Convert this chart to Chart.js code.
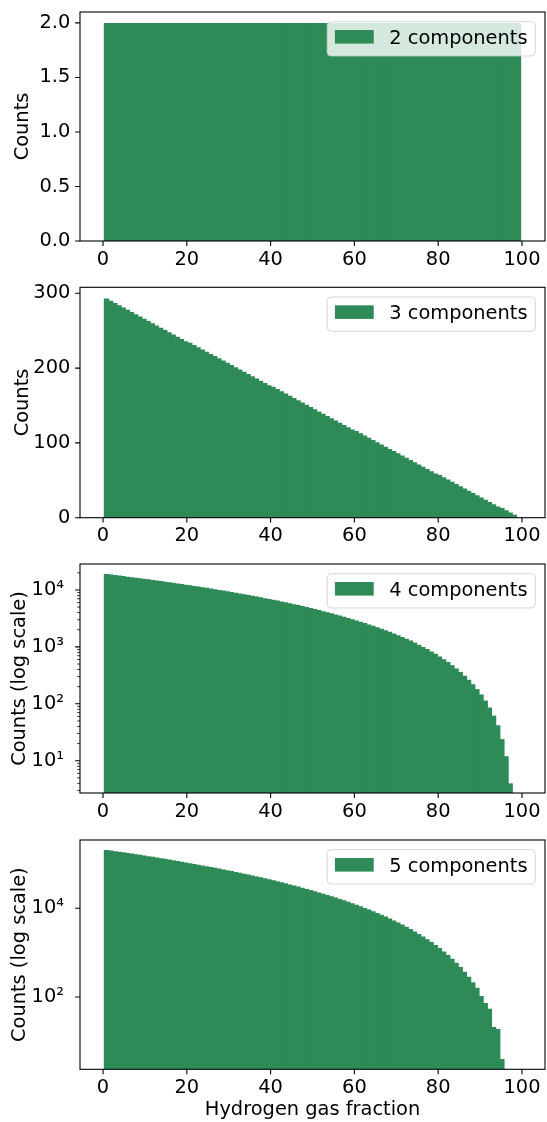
<!DOCTYPE html>
<html>
<head>
<meta charset="utf-8">
<script src="https://cdn.jsdelivr.net/npm/chart.js@4.4.1/dist/chart.umd.min.js"></script>
<style>
  html, body { margin: 0; padding: 0; background: #fff; }
  body { width: 547px; height: 1122px; position: relative; overflow: hidden; }
  canvas { position: absolute; left: 0; }
</style>
</head>
<body>
<canvas id="c2"></canvas>
<canvas id="c3"></canvas>
<canvas id="c4"></canvas>
<canvas id="c5"></canvas>
<script>
// histogram bins (100 bins of hydrogen gas fraction, %)
const binCenters = Array.from({length: 100}, (_, i) => +(0.33 + (i + 0.5) * 0.9934).toFixed(3));

// counts per bin, one array per number of components
const counts2 = [
  2, 2, 2, 2, 2, 2, 2, 2, 2, 2,
  2, 2, 2, 2, 2, 2, 2, 2, 2, 2,
  2, 2, 2, 2, 2, 2, 2, 2, 2, 2,
  2, 2, 2, 2, 2, 2, 2, 2, 2, 2,
  2, 2, 2, 2, 2, 2, 2, 2, 2, 2,
  2, 2, 2, 2, 2, 2, 2, 2, 2, 2,
  2, 2, 2, 2, 2, 2, 2, 2, 2, 2,
  2, 2, 2, 2, 2, 2, 2, 2, 2, 2,
  2, 2, 2, 2, 2, 2, 2, 2, 2, 2,
  2, 2, 2, 2, 2, 2, 2, 2, 2, 2
];
const counts3 = [
  293, 290, 287, 284, 281, 278, 275, 272, 269, 266,
  263, 260, 257, 254, 251, 248, 245, 242, 239, 236,
  234, 231, 228, 225, 222, 219, 216, 213, 210, 207,
  204, 201, 198, 195, 192, 189, 186, 183, 180, 177,
  175, 172, 169, 166, 163, 160, 157, 154, 151, 148,
  145, 142, 139, 136, 133, 130, 127, 124, 121, 118,
  116, 113, 110, 107, 104, 101, 98, 95, 92, 89,
  86, 83, 80, 77, 74, 71, 68, 65, 62, 59,
  57, 54, 51, 48, 45, 42, 39, 36, 33, 30,
  27, 24, 21, 18, 15, 13, 10, 7, 4, 0
];
const counts4 = [
  19030, 18650, 18270, 17890, 17520, 17150, 16790, 16430, 16070, 15720,
  15370, 15030, 14680, 14350, 14010, 13690, 13360, 13040, 12720, 12410,
  12100, 11790, 11490, 11190, 10900, 10610, 10320, 10040, 9760, 9490,
  9220, 8950, 8690, 8430, 8170, 7920, 7680, 7430, 7190, 6960,
  6730, 6500, 6270, 6060, 5840, 5630, 5420, 5220, 5020, 4820,
  4630, 4440, 4250, 4070, 3900, 3720, 3560, 3390, 3230, 3070,
  2920, 2770, 2630, 2480, 2350, 2210, 2080, 1960, 1840, 1720,
  1600, 1490, 1390, 1290, 1190, 1090, 1000, 915, 832, 754,
  679, 608, 541, 478, 418, 363, 312, 264, 221, 181,
  146, 114, 86, 62, 42, 24, 12, 4, 0, 0
];
const counts5 = [
  207000, 200700, 194600, 188600, 182700, 176900, 171200, 165700, 160300, 155000,
  149800, 144800, 139800, 135000, 130300, 125700, 121200, 116800, 112500, 108400,
  104300, 100300, 96470, 92710, 89040, 85480, 82010, 78630, 75350, 72160,
  69070, 66060, 63140, 60310, 57560, 54900, 52330, 49830, 47420, 45080,
  42820, 40640, 38540, 36510, 34550, 32660, 30840, 29090, 27410, 25800,
  24250, 22760, 21330, 19970, 18660, 17420, 16230, 15100, 14010, 12990,
  12010, 11080, 10210, 9378, 8595, 7857, 7161, 6509, 5897, 5325,
  4792, 4294, 3833, 3405, 3011, 2649, 2318, 2014, 1737, 1490,
  1265, 1065, 887, 729, 592, 473, 371, 286, 214, 162,
  105, 73, 54, 21, 19, 4, 0, 0, 0, 0
];

// tick values and labels
const xTicks = [0, 20, 40, 60, 80, 100];
const xTickLabels = ['0', '20', '40', '60', '80', '100'];
const yTicks2 = [0, 0.5, 1, 1.5, 2];
const yTickLabels2 = ['0.0', '0.5', '1.0', '1.5', '2.0'];
const yTicks3 = [0, 100, 200, 300];
const yTickLabels3 = ['0', '100', '200', '300'];
const yTicks4 = [10, 100, 1000, 10000];
const yTickLabels4 = ['10\u00B9', '10\u00B2', '10\u00B3', '10\u2074'];
const yTicks5 = [100, 10000];
const yTickLabels5 = ['10\u00B2', '10\u2074'];

const FONT = '"DejaVu Sans", sans-serif';
const FS = 19.4;
const GREEN = '#2e8b57';
const AX_LEFT = 80, AX_RIGHT = 545;

// draws matplotlib-like spines, tick marks and the legend box
const mplFrame = {
  id: 'mplFrame',
  afterDatasetsDraw(chart, args, opts) {
    const {ctx, chartArea: a, scales: {x, y}} = chart;
    ctx.save();
    ctx.strokeStyle = '#000';
    ctx.lineWidth = 1.1;
    ctx.beginPath();
    x.ticks.forEach(t => {
      const px = x.getPixelForValue(t.value);
      ctx.moveTo(px, a.bottom); ctx.lineTo(px, a.bottom + 4.9);
    });
    y.ticks.forEach(t => {
      const py = y.getPixelForValue(t.value);
      ctx.moveTo(a.left, py); ctx.lineTo(a.left - 4.9, py);
    });
    ctx.stroke();
    if (opts.minor) {
      ctx.lineWidth = 0.8;
      ctx.beginPath();
      for (let k = 0; k <= 5; k++) {
        for (let s = 2; s <= 9; s++) {
          const v = s * Math.pow(10, k);
          if (v < y.min || v > y.max) continue;
          const py = y.getPixelForValue(v);
          ctx.moveTo(a.left, py); ctx.lineTo(a.left - 2.8, py);
        }
      }
      ctx.stroke();
    }
    ctx.lineWidth = 1.1;
    ctx.strokeRect(a.left, a.top, a.right - a.left, a.bottom - a.top);

    // legend
    const label = chart.data.datasets[0].label;
    ctx.font = FS + 'px ' + FONT;
    const tw = ctx.measureText(label).width;
    const pad = 0.4 * FS, hl = 2.0 * FS, htp = 0.8 * FS;
    const w = pad + hl + htp + tw + pad, h = 34.3;
    const right = a.right - 0.5 * FS, left = right - w, top = a.top + 0.5 * FS;
    ctx.beginPath();
    ctx.roundRect(left, top, w, h, 4);
    ctx.fillStyle = 'rgba(255,255,255,0.8)';
    ctx.fill();
    ctx.strokeStyle = 'rgba(204,204,204,0.8)';
    ctx.lineWidth = 1;
    ctx.stroke();
    const base = top + 21.9;
    ctx.fillStyle = GREEN;
    ctx.fillRect(left + pad, base - 0.7 * FS, hl, 0.7 * FS);
    ctx.fillStyle = '#000';
    ctx.textBaseline = 'alphabetic';
    ctx.textAlign = 'left';
    ctx.fillText(label, left + pad + hl + htp, base);
    ctx.restore();
  }
};

function makePanel(p) {
  const cv = document.getElementById(p.id);
  cv.width = 547;
  cv.height = p.height;
  cv.style.top = p.top + 'px';
  const areaTop = p.areaTop - p.top, areaBottom = p.areaBottom - p.top;
  const isLog = p.yType === 'logarithmic';
  new Chart(cv, {
    type: 'bar',
    data: {
      datasets: [{
        label: p.label,
        data: binCenters.map((x, i) => ({x: x, y: p.counts[i]})).filter(d => d.y > 0),
        backgroundColor: GREEN,
        borderWidth: 0,
        barPercentage: 1.3,   // slight overlap hides anti-aliasing seams
        categoryPercentage: 1
      }]
    },
    options: {
      responsive: false,
      animation: false,
      devicePixelRatio: 1,
      layout: {padding: {left: 0, right: 547 - AX_RIGHT, top: areaTop, bottom: 0}},
      plugins: {
        legend: {display: false},
        tooltip: {enabled: false},
        mplFrame: {minor: p.minor}
      },
      scales: {
        x: {
          type: 'linear',
          offset: false,
          min: -5.5,
          max: 105.5,
          afterBuildTicks: s => { s.ticks = xTicks.map(v => ({value: v})); },
          afterFit: s => {
            s.height = p.height - areaBottom;
            s.paddingLeft = 0; s.paddingRight = 0;
          },
          grid: {display: false, drawTicks: false},
          border: {display: false},
          ticks: {
            padding: 7, maxRotation: 0, autoSkip: false, color: '#000',
            font: {family: FONT, size: FS},
            callback: (v, i) => xTickLabels[i]
          },
          title: {
            display: !!p.xTitle, text: p.xTitle || '', color: '#000',
            font: {family: FONT, size: FS}, padding: {top: 0, bottom: 0}
          }
        },
        y: {
          type: p.yType,
          min: p.yMin,
          max: p.yMax,
          afterBuildTicks: s => { s.ticks = p.yTicks.map(v => ({value: v})); },
          afterFit: s => {
            s.width = AX_LEFT;
            s.paddingTop = 0; s.paddingBottom = 0;
          },
          grid: {display: false, drawTicks: false},
          border: {display: false},
          ticks: {
            padding: isLog ? 16 : 9.7, autoSkip: false, color: '#000',
            font: {family: FONT, size: FS},
            callback: (v, i) => p.yLabels[i]
          },
          title: {
            display: true, text: p.yTitle, color: '#000',
            font: {family: FONT, size: FS},
            padding: {top: isLog ? 8.4 : 11.4, bottom: 0}
          }
        }
      }
    },
    plugins: [mplFrame]
  });
}

makePanel({id: 'c2', top: 0, height: 280, areaTop: 12, areaBottom: 241,
  counts: counts2, label: '2 components', yType: 'linear', yMin: 0, yMax: 2.1,
  yTicks: yTicks2, yLabels: yTickLabels2, yTitle: 'Counts'});
makePanel({id: 'c3', top: 280, height: 275, areaTop: 287.3, areaBottom: 517.7,
  counts: counts3, label: '3 components', yType: 'linear', yMin: 0, yMax: 308,
  yTicks: yTicks3, yLabels: yTickLabels3, yTitle: 'Counts'});
makePanel({id: 'c4', top: 555, height: 275, areaTop: 564, areaBottom: 793,
  counts: counts4, label: '4 components', yType: 'logarithmic', yMin: 2.71, yMax: 28600,
  yTicks: yTicks4, yLabels: yTickLabels4, yTitle: 'Counts (log scale)', minor: true});
makePanel({id: 'c5', top: 830, height: 292, areaTop: 840, areaBottom: 1069.3,
  counts: counts5, label: '5 components', yType: 'logarithmic', yMin: 2.34, yMax: 347000,
  yTicks: yTicks5, yLabels: yTickLabels5, yTitle: 'Counts (log scale)',
  xTitle: 'Hydrogen gas fraction'});
</script>
</body>
</html>
